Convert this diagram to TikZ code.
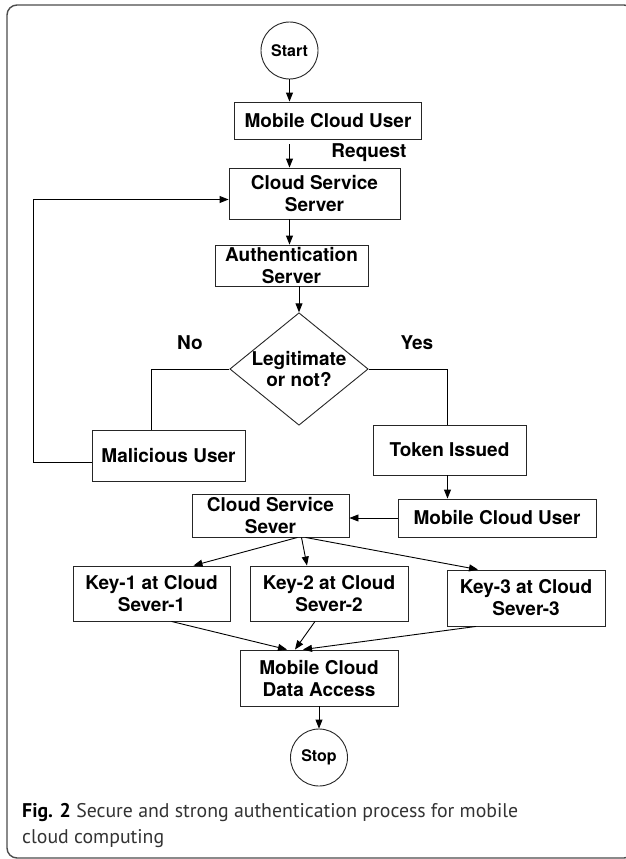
\documentclass[tikz,border=0pt]{standalone}
\usepackage{fontspec}
\setmainfont{TeX Gyre Heros}
\newfontfamily\capfont{PT Sans}
\usetikzlibrary{shapes.geometric,arrows.meta}

\tikzset{
  flowbox/.style = {draw=black!85, line width=0.9pt, rectangle, align=center,
                    inner sep=0pt, font=\fontsize{19}{22}\selectfont\bfseries},
  terminal/.style = {draw=black!85, line width=0.9pt, circle, inner sep=0pt,
                     minimum size=57pt, font=\fontsize{16}{19}\selectfont\bfseries},
  decision/.style = {draw=black!85, line width=0.9pt, diamond, aspect=1.23,
                     inner sep=0pt, minimum width=138pt, minimum height=112pt,
                     align=center, font=\fontsize{19}{21}\selectfont\bfseries},
  tag/.style = {font=\fontsize{19}{22}\selectfont\bfseries},
  flow/.style = {-{Triangle[length=9pt,width=7pt]}, line width=0.9pt},
  link/.style = {line width=0.9pt}
}

\begin{document}
\begin{tikzpicture}[x=1pt, y=-1pt]
  \useasboundingbox (0,0) rectangle (625,859);
  \fill[white] (0,0) rectangle (625,859);
  \draw[black!70, line width=1.4pt, rounded corners=10pt] (7,5) rectangle (634,858);

  % main chain
  \node[terminal] (start) at (289.5,50.5) {Start};
  \node[flowbox, minimum width=187pt, minimum height=37pt] (mcu1) at (328,120.5) {Mobile Cloud User};
  \node[flowbox, minimum width=171pt, minimum height=51pt] (css) at (314.5,193.5) {Cloud Service\\Server};
  \node[flowbox, minimum width=153pt, minimum height=41pt] (auth) at (291.5,265.5) {Authentication\\Server};
  \node[decision] (dec) at (299,369) {Legitimate\\or not?};
  \node[flowbox, minimum width=153pt, minimum height=51pt] (mal) at (168.5,455.5) {Malicious User};
  \node[flowbox, minimum width=153pt, minimum height=50pt] (tok) at (449.5,450) {Token Issued};
  \node[flowbox, minimum width=198pt, minimum height=38pt] (mcu2) at (497,518) {Mobile Cloud User};
  \node[flowbox, minimum width=157pt, minimum height=43pt] (css2) at (270.5,515.5) {Cloud Service\\Sever};
  \node[flowbox, minimum width=157pt, minimum height=55pt] (key1) at (151.5,593.5) {Key-1 at Cloud\\Sever-1};
  \node[flowbox, minimum width=158pt, minimum height=55pt] (key2) at (329,593.5) {Key-2 at Cloud\\Sever-2};
  \node[flowbox, minimum width=158pt, minimum height=56pt] (key3) at (526,598) {Key-3 at Cloud\\Sever-3};
  \node[flowbox, minimum width=158pt, minimum height=56pt] (data) at (319,678) {Mobile Cloud\\Data Access};
  \node[terminal] (stop) at (319,757.5) {Stop};

  % labels
  \node[tag] (req) at (369,153) {Request};
  \node[tag] (no) at (190,343) {No};
  \node[tag] (yes) at (417,343) {Yes};

  \coordinate (lft) at (33,0);

  % connectors
  \draw[flow] (start.south) -- (start.south |- mcu1.north);
  \draw[flow, shorten <=5pt] (mcu1.south -| start.south) -- (css.north -| start.south);
  \draw[flow] (css.south -| start.south) -- (auth.north -| start.south);
  \draw[flow] (auth.south -| dec.north) -- (dec.north);
  \draw[link] (dec.west) -| ([xshift=-17pt]mal.north);
  \draw[link] (dec.east) -| ([xshift=-2pt]tok.north);
  \draw[flow] ([yshift=-7pt]mal.west) -- ([yshift=-7pt]mal.west -| lft) |- ([yshift=-6pt]css.west);
  \draw[flow] ([xshift=-2pt]tok.south) -- ([xshift=-2pt]tok.south |- mcu2.north);
  \draw[flow] (mcu2.west) -- (mcu2.west -| css2.east);
  \draw[flow] ([xshift=27pt]css2.south) -- ([xshift=42pt]key1.north);
  \draw[flow] ([xshift=31pt]css2.south) -- ([xshift=-22pt]key2.north);
  \draw[flow] ([xshift=35pt]css2.south) -- ([xshift=-48pt]key3.north);
  \draw[flow] ([xshift=20pt]key1.south) -- ([xshift=-32pt]data.north);
  \draw[flow] ([xshift=-14pt]key2.south) -- ([xshift=-24pt]data.north);
  \draw[flow] ([xshift=-50pt]key3.south) -- ([xshift=-16pt]data.north);
  \draw[flow] (data.south) -- (stop.north);

  % caption
  \node[anchor=west, align=left, inner sep=0pt, text=black!80,
        font=\capfont\fontsize{19.8}{26}\selectfont] (cap) at (22,826)
        {\textcolor{black}{\bfseries Fig. 2} Secure and strong authentication process for mobile\\cloud computing};
\end{tikzpicture}
\end{document}
